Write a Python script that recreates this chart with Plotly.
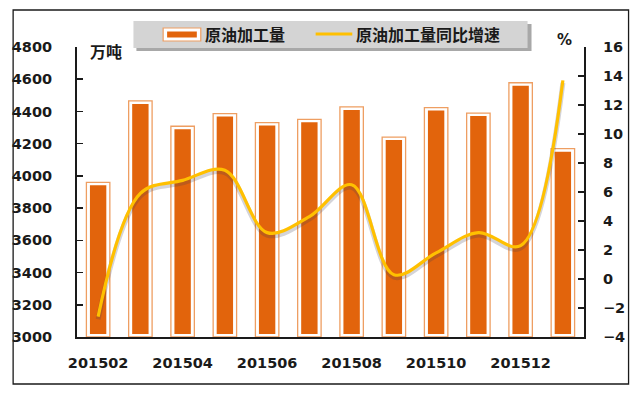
import plotly.graph_objects as go

# ---------------- data ----------------
months = ['201502', '201503', '201504', '201505', '201506', '201507',
          '201508', '201509', '201510', '201511', '201512', '201601']
crude_processing = [3960, 4465, 4308, 4387, 4331, 4351, 4428, 4241, 4424, 4390, 4578, 4169]  # 万吨
growth_yoy = [-2.6, 5.9, 6.8, 7.5, 3.2, 4.3, 6.5, 0.3, 1.8, 3.2, 2.3, 13.7]  # %
x_tick_labels = months[::2]
left_ticks = list(range(3000, 4801, 200))
right_ticks = list(range(-4, 17, 2))
left_range = [3000, 4800]
right_range = [-4, 16]

# ---------------- style / layout helpers ----------------
W, H = 641, 393
PL, PR, PT, PB = 72, 584, 47, 337  # plot area in pixels


def fx(p):
    return (p - PL) / (PR - PL)


def fy(p):
    return (PB - p) / (PB - PT)


ORANGE = '#E2640C'
FRAME = '#EE9E62'
GOLD = '#FFC000'
INK = '#1a1a1a'
NUM_FONT = dict(family='DejaVu Sans', size=14.5, color=INK, weight='bold')
CJK = 'Noto Sans CJK SC'

# shadow offset of the line (in right-axis units, ~2.5 px)
sh = 2.5 * (right_range[1] - right_range[0]) / (PB - PT)

fig = go.Figure()

base = left_range[0]
fig.add_trace(go.Bar(
    x=months, y=[v - base for v in crude_processing], base=base,
    width=0.53, marker=dict(color=ORANGE, line=dict(color='white', width=6)),
    showlegend=False, hoverinfo='skip'))
fig.add_trace(go.Bar(
    x=months, y=[v - base for v in crude_processing], base=base,
    width=0.555, marker=dict(color='rgba(0,0,0,0)', line=dict(color=FRAME, width=1.3)),
    name='原油加工量', showlegend=False))

fig.add_trace(go.Scatter(
    x=months, y=growth_yoy, yaxis='y2', mode='lines',
    line=dict(color='rgba(60,60,80,0.22)', width=5, shape='spline', smoothing=1),
    showlegend=False, hoverinfo='skip'))
fig.add_trace(go.Scatter(
    x=months, y=growth_yoy, yaxis='y3', mode='lines',
    line=dict(color=GOLD, width=3.2, shape='spline', smoothing=1),
    name='原油加工量同比增速', showlegend=False))

shapes = [
    # outer frame
    dict(type='rect', xref='paper', yref='paper', x0=fx(7.5), x1=fx(629), y0=fy(384), y1=fy(10),
         line=dict(color=INK, width=1.3), fillcolor='rgba(0,0,0,0)', layer='below'),
    # legend shadow + box
    dict(type='rect', xref='paper', yref='paper', x0=fx(132), x1=fx(531), y0=fy(51), y1=fy(24),
         line=dict(width=0), fillcolor='#A8A8A8', layer='above'),
    dict(type='rect', xref='paper', yref='paper', x0=fx(129), x1=fx(527), y0=fy(48), y1=fy(21),
         line=dict(width=0), fillcolor='#D4D4D4', layer='above'),
    # legend bar icon
    dict(type='rect', xref='paper', yref='paper', x0=fx(159), x1=fx(197), y0=fy(41), y1=fy(28),
         line=dict(color=FRAME, width=1.2), fillcolor='white', layer='above'),
    dict(type='rect', xref='paper', yref='paper', x0=fx(163), x1=fx(193), y0=fy(37.5), y1=fy(31.5),
         line=dict(width=0), fillcolor=ORANGE, layer='above'),
    # legend line icon
    dict(type='line', xref='paper', yref='paper', x0=fx(313), x1=fx(350), y0=fy(34), y1=fy(34),
         line=dict(color=GOLD, width=3.2), layer='above'),
]

annotations = [
    dict(text='原油加工量', xref='paper', yref='paper', x=fx(199), y=fy(34.5),
         xanchor='left', yanchor='middle', showarrow=False,
         font=dict(family=CJK, size=16, color=INK, weight='bold')),
    dict(text='原油加工量同比增速', xref='paper', yref='paper', x=fx(352), y=fy(34.5),
         xanchor='left', yanchor='middle', showarrow=False,
         font=dict(family=CJK, size=16, color=INK, weight='bold')),
    dict(text='万吨', xref='paper', yref='paper', x=fx(83), y=fy(51.5),
         xanchor='left', yanchor='middle', showarrow=False,
         font=dict(family=CJK, size=16, color=INK, weight='bold')),
    dict(text='%', xref='paper', yref='paper', x=fx(564), y=fy(40),
         xanchor='center', yanchor='middle', showarrow=False,
         font=dict(family='DejaVu Sans', size=15, color=INK, weight='bold')),
]

fig.update_layout(
    width=W, height=H,
    margin=dict(l=PL, r=W - PR, t=PT, b=H - PB, pad=0),
    paper_bgcolor='white', plot_bgcolor='white',
    barmode='overlay', bargap=0,
    showlegend=False,
    hovermode=False,
    xaxis=dict(type='category', categoryorder='array', categoryarray=months,
               range=[-0.5, len(months) - 0.5],
               tickvals=x_tick_labels, ticktext=x_tick_labels,
               showline=True, linecolor=INK, linewidth=2, ticks='',
               showgrid=False, zeroline=False, tickfont=NUM_FONT,
               ticklabelstandoff=12, fixedrange=True),
    yaxis=dict(range=left_range, tickvals=left_ticks, ticks='inside', ticklen=6,
               tickwidth=1.5, tickcolor=INK, showline=True, linecolor=INK, linewidth=2,
               showgrid=False, zeroline=False, tickfont=NUM_FONT, ticklabelstandoff=20),
    yaxis2=dict(overlaying='y', range=[right_range[0] + sh, right_range[1] + sh],
                visible=False, showgrid=False, zeroline=False),
    yaxis3=dict(overlaying='y', side='right', anchor='x', range=right_range,
                tickvals=right_ticks, ticks='inside', ticklen=6, tickwidth=1.5,
                tickcolor=INK, showline=True, linecolor=INK, linewidth=2,
                showgrid=False, zeroline=False, tickfont=NUM_FONT,
                ticklabelstandoff=14),
    shapes=shapes,
    annotations=annotations,
)

# remove the browser's default 8px body margin so the figure starts at the page origin
fig.write_html('out.html', config={'displayModeBar': False, 'staticPlot': True},
               post_script="document.body.style.margin='0';")
